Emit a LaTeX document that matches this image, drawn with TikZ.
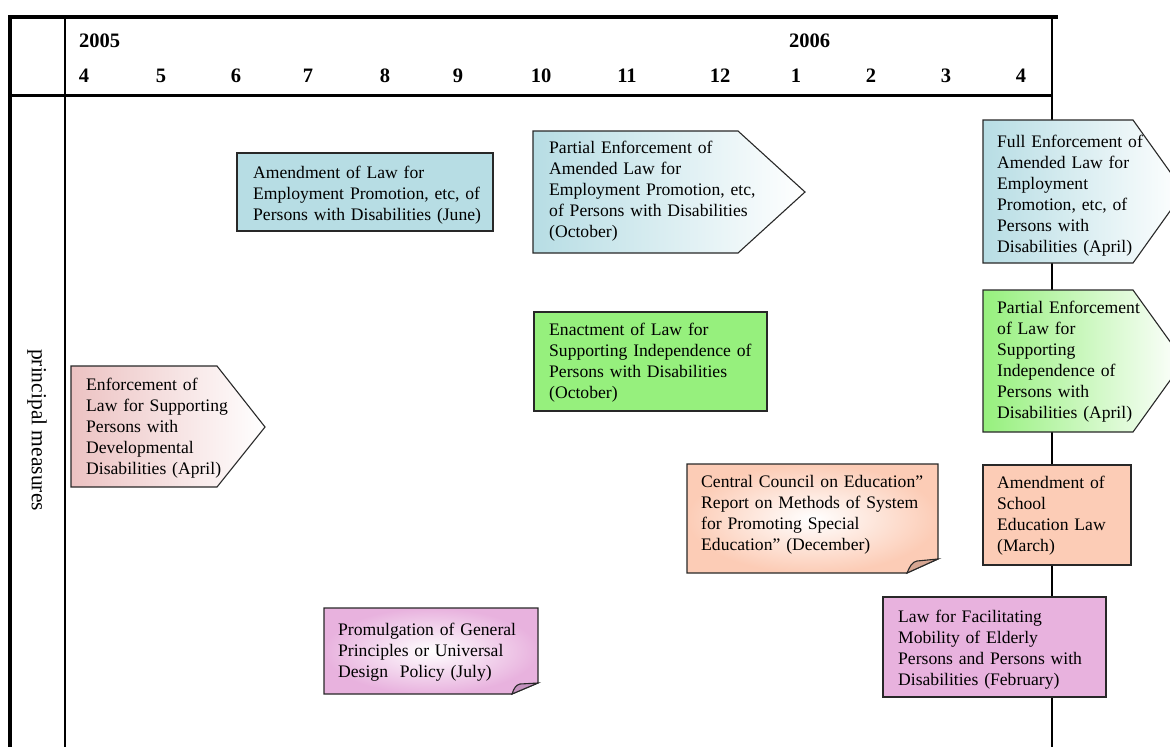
\documentclass[tikz,border=0pt]{standalone}
\usepackage{fontspec}
\setmainfont{Liberation Serif}
\definecolor{blueL}{RGB}{183,221,228}
\definecolor{pinkL}{RGB}{236,194,194}
\definecolor{greenL}{RGB}{150,240,125}
\definecolor{peach}{RGB}{252,204,182}
\definecolor{peachD}{RGB}{214,166,146}
\definecolor{violet}{RGB}{232,178,222}
\definecolor{violetD}{RGB}{196,146,190}
\definecolor{boxline}{RGB}{40,40,40}
\begin{document}
\begin{tikzpicture}[x=1pt,y=-1pt,line join=miter,
  box/.style={draw=boxline,line width=1.1pt},
  txt/.style={anchor=base west,inner sep=0pt,text width=320pt,align=left,
    font=\fontsize{17.6}{21}\selectfont},
  head/.style={anchor=base,inner sep=0pt,font=\fontsize{20.5}{24}\selectfont\bfseries},
  yearlbl/.style={anchor=base west,inner sep=0pt,font=\fontsize{20.5}{24}\selectfont\bfseries}]
\useasboundingbox (0,0) rectangle (1170,747);
% frame
\draw[line width=1.2pt] (1052,15) -- (1052,747);
\draw[line width=2pt] (65,15) -- (65,747);
\draw[line width=4pt] (10,15) -- (10,747);
\draw[line width=4pt] (8,17) -- (1058,17);
\draw[line width=3pt] (8,95) -- (1052,95);
% header
\node[yearlbl] (y2005) at (79,47) {2005};
\node[yearlbl] (y2006) at (789,47) {2006};
\foreach \m/\x/\n in {4/84/a,5/161/b,6/236/c,7/308/d,8/385/e,9/458/f,10/541/g,11/627/h,12/720/i,1/796/j,2/871/k,3/946/l,4/1021/m}
  \node[head] (m\n) at (\x,82) {\m};
\node[rotate=-90,inner sep=0pt,font=\fontsize{21.5}{24}\selectfont] (pm) at (37,430) {principal measures};
% boxes
\draw[box,fill=blueL] (237,153) rectangle (493,231);
\node[txt] (amend) at (253,178) {Amendment of Law for\\Employment Promotion, etc, of\\Persons with Disabilities (June)};

\draw[box,left color=blueL,right color=white] (533,131) -- (738,131) -- (805,192) -- (738,253) -- (533,253) -- cycle;
\node[txt] (partial) at (549,153) {Partial Enforcement of\\Amended Law for\\Employment Promotion, etc,\\of Persons with Disabilities\\(October)};

\draw[box,left color=blueL,right color=white] (983,120) -- (1133,120) -- (1184,191.5) -- (1133,263) -- (983,263) -- cycle;
\node[txt] (full) at (997,147) {Full Enforcement of\\Amended Law for\\Employment\\Promotion, etc, of\\Persons with\\Disabilities (April)};

\draw[box,fill=greenL] (534,312) rectangle (767,411);
\node[txt] (enact) at (549,335) {Enactment of Law for\\Supporting Independence of\\Persons with Disabilities\\(October)};

\draw[box,left color=greenL,right color=white] (983,290) -- (1133,290) -- (1184,361) -- (1133,432) -- (983,432) -- cycle;
\node[txt] (pgreen) at (997,313) {Partial Enforcement\\of Law for\\Supporting\\Independence of\\Persons with\\Disabilities (April)};

\draw[box,left color=pinkL,right color=white] (71,366) -- (217,366) -- (265,427) -- (217,487) -- (71,487) -- cycle;
\node[txt] (devel) at (86,390) {Enforcement of\\Law for Supporting\\Persons with\\Developmental\\Disabilities (April)};

\draw[box,inner color=white,outer color=peach] (687,464) -- (938,464) -- (938,559) -- (907,573) -- (687,573) -- cycle;
\draw[box,fill=peachD] (907,573) .. controls (910,566) and (912,562) .. (917,561) -- (938,559) -- cycle;
\node[txt] (council) at (701,487) {Central Council on Education”\\Report on Methods of System\\for Promoting Special\\Education” (December)};

\draw[box,fill=peach] (983,465) rectangle (1131,565);
\node[txt] (school) at (997,488) {Amendment of\\School\\Education Law\\(March)};

\draw[box,inner color=white,outer color=violet] (324,608) -- (538,608) -- (538,683) -- (512,694) -- (324,694) -- cycle;
\draw[box,fill=violetD] (512,694) .. controls (514,688) and (516,685) .. (520,684) -- (538,683) -- cycle;
\node[txt] (promul) at (338,635) {Promulgation of General\\Principles or Universal\\Design\ \ Policy (July)};

\draw[box,fill=violet] (883,597) rectangle (1106,697);
\node[txt] (mobility) at (898,622) {Law for Facilitating\\Mobility of Elderly\\Persons and Persons with\\Disabilities (February)};
\end{tikzpicture}
\end{document}
